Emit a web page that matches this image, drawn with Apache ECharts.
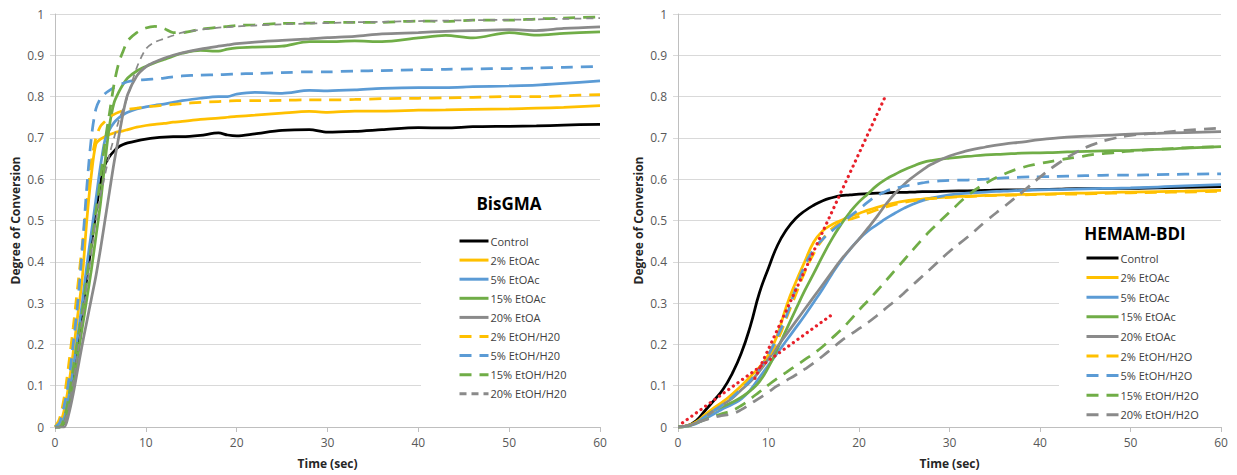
<!DOCTYPE html>
<html>
<head>
<meta charset="utf-8">
<script src="https://cdn.jsdelivr.net/npm/echarts@6/dist/echarts.min.js"></script>
<style>
html,body{margin:0;padding:0;background:#fff;}
#chart{width:1237px;height:475px;}
</style>
</head>
<body>
<div id="chart"></div>
<script>
// ---------- BisGMA (left) ----------
const tL = [0,0.5,1,1.5,2,2.5,3,3.5,4,4.5,5,5.5,6,6.5,7,7.5,8,9,10,11,12,13,14,16,18,19,20,22,25,28,30,33,36,40,43,46,50,53,56,60];
const bControl = [0,0,0.01,0.06,0.13,0.2,0.28,0.36,0.44,0.52,0.59,0.635,0.655,0.668,0.678,0.684,0.688,0.693,0.697,0.70,0.702,0.703,0.703,0.706,0.712,0.707,0.705,0.71,0.718,0.72,0.714,0.716,0.72,0.725,0.724,0.727,0.728,0.729,0.731,0.733];
const b2EtOAc = [0,0.005,0.04,0.1,0.18,0.27,0.36,0.5,0.61,0.685,0.697,0.703,0.708,0.712,0.715,0.717,0.72,0.726,0.73,0.733,0.735,0.738,0.74,0.745,0.748,0.75,0.752,0.755,0.76,0.764,0.762,0.765,0.765,0.767,0.768,0.769,0.77,0.772,0.774,0.778];
const b5EtOAc = [0,0,0.02,0.07,0.14,0.22,0.3,0.39,0.47,0.55,0.63,0.695,0.72,0.737,0.748,0.756,0.762,0.77,0.775,0.779,0.782,0.786,0.79,0.796,0.80,0.80,0.806,0.81,0.808,0.815,0.814,0.816,0.82,0.822,0.822,0.824,0.826,0.828,0.832,0.838];
const b15EtOAc = [0,0,0.01,0.05,0.1,0.17,0.24,0.31,0.38,0.46,0.54,0.64,0.73,0.785,0.81,0.83,0.845,0.862,0.873,0.882,0.89,0.898,0.905,0.912,0.91,0.915,0.918,0.92,0.922,0.933,0.933,0.935,0.933,0.942,0.948,0.942,0.955,0.949,0.953,0.957];
const b20EtOA = [0,0,0,0.03,0.08,0.14,0.2,0.255,0.31,0.365,0.43,0.5,0.57,0.64,0.7,0.76,0.805,0.85,0.872,0.884,0.893,0.9,0.906,0.915,0.922,0.925,0.928,0.932,0.936,0.94,0.943,0.946,0.952,0.955,0.958,0.96,0.962,0.96,0.965,0.969];
const b2EtOH = [0,0.02,0.07,0.15,0.24,0.34,0.44,0.54,0.64,0.7,0.728,0.74,0.75,0.757,0.762,0.766,0.769,0.772,0.775,0.777,0.779,0.781,0.783,0.786,0.788,0.789,0.79,0.79,0.791,0.792,0.792,0.793,0.795,0.796,0.797,0.798,0.80,0.80,0.802,0.805];
const b5EtOH = [0,0.01,0.05,0.11,0.2,0.3,0.43,0.58,0.7,0.77,0.795,0.807,0.815,0.822,0.827,0.832,0.836,0.84,0.841,0.843,0.845,0.848,0.85,0.852,0.853,0.854,0.855,0.856,0.858,0.86,0.86,0.862,0.863,0.865,0.866,0.867,0.868,0.869,0.871,0.873];
const b15EtOH = [0,0,0.02,0.07,0.14,0.21,0.28,0.36,0.44,0.52,0.6,0.69,0.76,0.83,0.88,0.91,0.935,0.955,0.966,0.97,0.965,0.955,0.955,0.963,0.968,0.97,0.972,0.974,0.977,0.978,0.98,0.98,0.98,0.983,0.982,0.985,0.985,0.988,0.99,0.993];
const b20EtOH = [0,0,0.01,0.05,0.11,0.18,0.26,0.34,0.42,0.5,0.56,0.61,0.66,0.7,0.74,0.77,0.8,0.87,0.915,0.932,0.94,0.948,0.955,0.962,0.967,0.968,0.97,0.972,0.975,0.977,0.978,0.98,0.981,0.983,0.984,0.985,0.986,0.987,0.988,0.99];
const legendL = ['Control','2% EtOAc','5% EtOAc','15% EtOAc','20% EtOA','2% EtOH/H20','5% EtOH/H20','15% EtOH/H20','20% EtOH/H20'];

// ---------- HEMAM-BDI (right) ----------
const tR = [0,1,2,3,4,5,6,7,8,9,10,11,12,13,14,15,16,17,18,19,20,21,22,23,24,25,26,27,28,30,32,34,36,38,40,42,44,46,48,50,53,56,60];
const hControl = [0,0.003,0.015,0.04,0.065,0.092,0.13,0.179,0.245,0.325,0.385,0.44,0.478,0.505,0.523,0.537,0.548,0.555,0.56,0.562,0.564,0.565,0.566,0.567,0.568,0.568,0.569,0.57,0.57,0.571,0.572,0.573,0.574,0.574,0.575,0.576,0.577,0.577,0.578,0.578,0.579,0.58,0.582];
const h2EtOAc = [0,0.003,0.012,0.03,0.047,0.062,0.08,0.1,0.122,0.145,0.175,0.224,0.294,0.35,0.4,0.448,0.475,0.49,0.5,0.51,0.517,0.525,0.532,0.538,0.543,0.547,0.55,0.552,0.554,0.557,0.559,0.561,0.562,0.563,0.564,0.565,0.566,0.567,0.568,0.569,0.57,0.571,0.573];
const h5EtOAc = [0,0.002,0.008,0.02,0.032,0.045,0.055,0.068,0.09,0.12,0.15,0.18,0.21,0.24,0.27,0.302,0.335,0.37,0.402,0.43,0.455,0.475,0.49,0.505,0.518,0.53,0.54,0.548,0.554,0.562,0.566,0.569,0.571,0.573,0.574,0.575,0.576,0.577,0.578,0.579,0.581,0.584,0.587];
const h15EtOAc = [0,0.002,0.01,0.025,0.04,0.05,0.06,0.072,0.088,0.11,0.145,0.19,0.237,0.284,0.33,0.372,0.415,0.455,0.49,0.52,0.545,0.565,0.585,0.6,0.612,0.623,0.632,0.64,0.645,0.651,0.655,0.659,0.661,0.663,0.664,0.665,0.667,0.668,0.669,0.67,0.672,0.675,0.679];
const h20EtOAc = [0,0.002,0.01,0.025,0.04,0.055,0.07,0.09,0.11,0.135,0.165,0.195,0.225,0.255,0.285,0.315,0.345,0.375,0.405,0.43,0.455,0.482,0.51,0.54,0.566,0.588,0.606,0.622,0.636,0.656,0.669,0.678,0.685,0.69,0.696,0.7,0.703,0.705,0.707,0.709,0.711,0.713,0.715];
const h2EtOH = [0,0.002,0.01,0.025,0.04,0.055,0.073,0.093,0.115,0.14,0.17,0.21,0.265,0.32,0.375,0.42,0.455,0.48,0.495,0.503,0.51,0.518,0.526,0.533,0.539,0.544,0.548,0.551,0.553,0.556,0.558,0.56,0.561,0.562,0.563,0.564,0.564,0.565,0.566,0.567,0.568,0.569,0.571];
const h5EtOH = [0,0.002,0.01,0.025,0.04,0.055,0.072,0.092,0.113,0.14,0.175,0.22,0.27,0.335,0.39,0.43,0.455,0.475,0.492,0.51,0.527,0.545,0.56,0.571,0.578,0.583,0.587,0.591,0.594,0.597,0.598,0.6,0.603,0.605,0.606,0.607,0.608,0.609,0.61,0.61,0.611,0.612,0.613];
const h15EtOH = [0,0.003,0.01,0.018,0.026,0.033,0.04,0.052,0.068,0.085,0.102,0.118,0.133,0.148,0.163,0.178,0.195,0.215,0.235,0.258,0.283,0.306,0.33,0.355,0.38,0.405,0.43,0.455,0.478,0.52,0.56,0.59,0.612,0.628,0.638,0.646,0.653,0.66,0.664,0.668,0.672,0.676,0.679];
const h20EtOH = [0,0.003,0.01,0.017,0.024,0.028,0.032,0.042,0.056,0.07,0.085,0.1,0.113,0.126,0.14,0.155,0.172,0.19,0.208,0.223,0.238,0.253,0.27,0.288,0.306,0.325,0.345,0.365,0.385,0.425,0.46,0.498,0.533,0.568,0.605,0.638,0.665,0.685,0.698,0.706,0.712,0.718,0.724];
// red dotted tangent lines
const tanA_t = [0.5, 17.2];
const tanA_v = [0.01, 0.275];
const tanB_t = [8.5, 22.9];
const tanB_v = [0.118, 0.80];
const legendR = ['Control','2% EtOAc','5% EtOAc','15% EtOAc','20% EtOAc','2% EtOH/H2O','5% EtOH/H2O','15% EtOH/H2O','20% EtOH/H2O'];

const yTicks = {min: 0, max: 1, interval: 0.1};
const xTicks = {min: 0, max: 60, interval: 10};

// ---------- build ----------
const FONT = 'Open Sans';
const C = {black:'#000000', yellow:'#ffc000', blue:'#5b9bd5', green:'#70ad47', gray:'#8a8a8a', red:'#e8202a'};
const DASH = [12, 8];
function zip(t, v){ return t.map((x,i)=>[x, v[i]]); }
function line(name, t, v, idx, color, opts){
  opts = opts || {};
  return {
    name: name, type: 'line', xAxisIndex: idx, yAxisIndex: idx,
    data: zip(t, v), symbol: 'none', showSymbol: false,
    smooth: opts.smooth == null ? 0.3 : opts.smooth,
    lineStyle: {color: color, width: opts.width || 2.75, type: opts.dash ? (opts.dashArr || DASH) : 'solid', cap: 'butt'},
    itemStyle: {color: color},
    emphasis: {disabled: true}, silent: true, animation: false, z: 3
  };
}
const series = [
  line(legendL[0], tL, bControl, 0, C.black, {smooth:0.3}),
  line(legendL[1], tL, b2EtOAc, 0, C.yellow, {smooth:0.3}),
  line(legendL[2], tL, b5EtOAc, 0, C.blue, {smooth:0.3}),
  line(legendL[3], tL, b15EtOAc, 0, C.green, {smooth:0.3}),
  line(legendL[4], tL, b20EtOA, 0, C.gray, {smooth:0.3}),
  line(legendL[5], tL, b2EtOH, 0, C.yellow, {smooth:0.3, dash:true}),
  line(legendL[6], tL, b5EtOH, 0, C.blue, {smooth:0.3, dash:true}),
  line(legendL[7], tL, b15EtOH, 0, C.green, {smooth:0.3, dash:true}),
  line(legendL[8], tL, b20EtOH, 0, C.gray, {smooth:0.3, dash:true, width:1.75, dashArr:[7,5]}),

  line(legendR[0], tR, hControl, 1, C.black, {smooth:0.5}),
  line(legendR[1], tR, h2EtOAc, 1, C.yellow, {smooth:0.5}),
  line(legendR[2], tR, h5EtOAc, 1, C.blue, {smooth:0.5}),
  line(legendR[3], tR, h15EtOAc, 1, C.green, {smooth:0.5}),
  line(legendR[4], tR, h20EtOAc, 1, C.gray, {smooth:0.5}),
  line(legendR[5], tR, h2EtOH, 1, C.yellow, {smooth:0.5, dash:true}),
  line(legendR[6], tR, h5EtOH, 1, C.blue, {smooth:0.5, dash:true}),
  line(legendR[7], tR, h15EtOH, 1, C.green, {smooth:0.5, dash:true}),
  line(legendR[8], tR, h20EtOH, 1, C.gray, {smooth:0.5, dash:true}),
];
['tangentA','tangentB'].forEach((nm, k) => {
  const s = line(nm, k ? tanB_t : tanA_t, k ? tanB_v : tanA_v, 1, C.red, {smooth:false, width:3.2});
  s.lineStyle.type = [0.1, 5.6];
  s.lineStyle.cap = 'round';
  s.z = 4;
  series.push(s);
});

function xAxis(idx){
  return {
    type: 'value', gridIndex: idx, min: xTicks.min, max: xTicks.max, interval: xTicks.interval,
    name: 'Time (sec)', nameLocation: 'middle', nameGap: 30,
    nameTextStyle: {fontFamily: FONT, fontSize: 12, fontWeight: 'bold', color: '#262626'},
    axisLine: {show: true, onZero: false, lineStyle: {color: '#bfbfbf', width: 1}},
    axisTick: {show: true, inside: false, length: 5, lineStyle: {color: '#bfbfbf'}},
    axisLabel: {fontFamily: FONT, fontSize: 12, color: '#595959', margin: 9},
    splitLine: {show: false}
  };
}
function yAxis(idx){
  return {
    type: 'value', gridIndex: idx, min: yTicks.min, max: yTicks.max, interval: yTicks.interval,
    name: 'Degree of Conversion', nameLocation: 'middle', nameGap: 34, nameRotate: 90,
    nameTextStyle: {fontFamily: FONT, fontSize: 12, fontWeight: 'bold', color: '#262626'},
    axisLine: {show: true, lineStyle: {color: '#bfbfbf', width: 1}},
    axisTick: {show: true, inside: false, length: 5, lineStyle: {color: '#d9d9d9'}},
    axisLabel: {fontFamily: FONT, fontSize: 12, color: '#595959', margin: 11},
    splitLine: {show: true, lineStyle: {color: '#d9d9d9', width: 1}}
  };
}
function legend(data, left, top, padTop, padLeft, w, gap){
  return {
    data: data, orient: 'vertical', left: left, top: top,
    padding: [padTop, 0, 0, padLeft], itemWidth: w, itemHeight: 14, itemGap: gap,
    selectedMode: false,
    itemStyle: {opacity: 0, borderWidth: 0},
    lineStyle: {width: 3},
    textStyle: {fontFamily: FONT, fontSize: 11, color: '#404040', lineHeight: 14, padding: [0,0,0,-3]}
  };
}

const chart = echarts.init(document.getElementById('chart'), null, {renderer: 'svg'});
chart.setOption({
  animation: false,
  backgroundColor: '#ffffff',
  grid: [
    {left: 55, top: 14, width: 545, height: 413},
    {left: 678, top: 14, width: 543, height: 413}
  ],
  xAxis: [xAxis(0), xAxis(1)],
  yAxis: [yAxis(0), yAxis(1)],
  legend: [
    legend(legendL, 420, 230, 4, 38, 29, 5.1),
    legend(legendR, 1058, 245, 6, 27, 32, 5.6)
  ],
  graphic: [
    {type: 'rect', z: 1, silent: true, shape: {x: 421, y: 229, width: 181, height: 197}, style: {fill: '#ffffff'}},
    {type: 'rect', z: 1, silent: true, shape: {x: 1059, y: 245, width: 164, height: 181}, style: {fill: '#ffffff'}},
    {type: 'text', z: 5, silent: true, x: 509, y: 203, style: {text: 'BisGMA', font: 'bold 17px "Open Sans"', fill: '#000', align: 'center', verticalAlign: 'middle'}},
    {type: 'text', z: 5, silent: true, x: 1135, y: 233, style: {text: 'HEMAM-BDI', font: 'bold 17px "Open Sans"', fill: '#000', align: 'center', verticalAlign: 'middle'}}
  ],
  series: series
});
</script>
</body>
</html>
